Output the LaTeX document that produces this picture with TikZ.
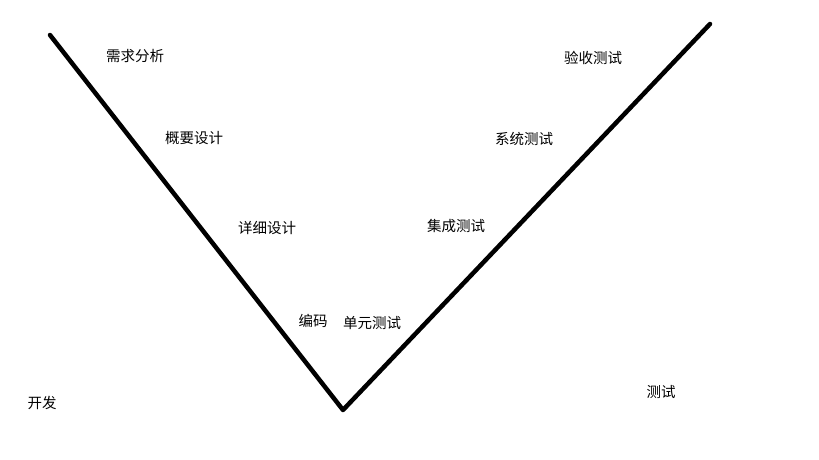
\documentclass[tikz,border=0pt]{standalone}
\usepackage{fontspec}
\newfontfamily\cjk{Noto Sans CJK SC}
\tikzset{lbl/.style={font=\cjk\fontsize{14.5}{15}\selectfont, inner sep=0pt, anchor=center},
vline/.style={line width=4.5pt, line cap=round, line join=round}}
\begin{document}
\begin{tikzpicture}[x=1pt,y=-1pt]
\useasboundingbox (0,0) rectangle (819,460);
\fill[white] (0,0) rectangle (819,460);
\coordinate (tl) at (50,35);
\coordinate (v) at (343,410);
\coordinate (tr) at (710,24);
\draw[vline] (tl) -- (v) -- (tr);
\node[lbl] (n1) at (135,56) {需求分析};
\node[lbl] (n2) at (194,138) {概要设计};
\node[lbl] (n3) at (267,228) {详细设计};
\node[lbl] (n4) at (313,321) {编码};
\node[lbl] (n5) at (372,323) {单元测试};
\node[lbl] (n6) at (456,226) {集成测试};
\node[lbl] (n7) at (524,139) {系统测试};
\node[lbl] (n8) at (593,58) {验收测试};
\node[lbl] (n9) at (42,403) {开发};
\node[lbl] (n10) at (661,392) {测试};
\end{tikzpicture}
\end{document}
